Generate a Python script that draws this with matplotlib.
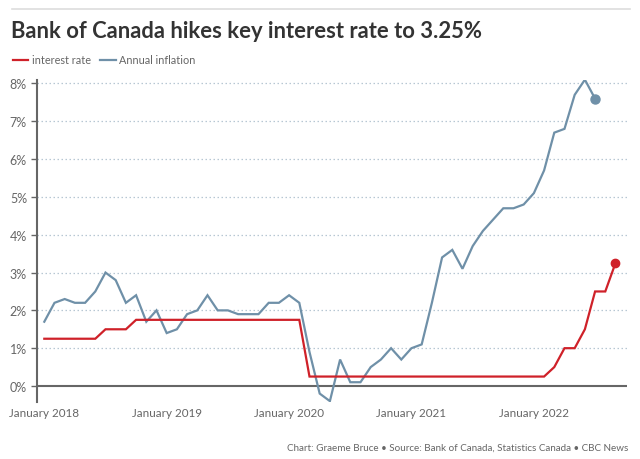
import matplotlib
matplotlib.use("Agg")
import matplotlib.pyplot as plt
from matplotlib.lines import Line2D
import numpy as np

# Data (monthly, starting January 2018)
interest_rate = [
    1.25, 1.25, 1.25, 1.25, 1.25, 1.25, 1.5, 1.5, 1.5, 1.75, 1.75, 1.75,   # 2018
    1.75, 1.75, 1.75, 1.75, 1.75, 1.75, 1.75, 1.75, 1.75, 1.75, 1.75, 1.75,  # 2019
    1.75, 1.75, 0.25, 0.25, 0.25, 0.25, 0.25, 0.25, 0.25, 0.25, 0.25, 0.25,  # 2020
    0.25, 0.25, 0.25, 0.25, 0.25, 0.25, 0.25, 0.25, 0.25, 0.25, 0.25, 0.25,  # 2021
    0.25, 0.25, 0.5, 1.0, 1.0, 1.5, 2.5, 2.5, 3.25,                          # 2022
]
annual_inflation = [
    1.7, 2.2, 2.3, 2.2, 2.2, 2.5, 3.0, 2.8, 2.2, 2.4, 1.7, 2.0,   # 2018
    1.4, 1.5, 1.9, 2.0, 2.4, 2.0, 2.0, 1.9, 1.9, 1.9, 2.2, 2.2,   # 2019
    2.4, 2.2, 0.9, -0.2, -0.4, 0.7, 0.1, 0.1, 0.5, 0.7, 1.0, 0.7, # 2020
    1.0, 1.1, 2.2, 3.4, 3.6, 3.1, 3.7, 4.1, 4.4, 4.7, 4.7, 4.8,   # 2021
    5.1, 5.7, 6.7, 6.8, 7.7, 8.1, 7.6,                            # 2022
]
x_tick_labels = ["January 2018", "January 2019", "January 2020", "January 2021", "January 2022"]
y_ticks = [0, 1, 2, 3, 4, 5, 6, 7, 8]

RED = "#cf2129"
BLUE = "#6f90a8"
TEXT = "#666666"
FONT = ["Lato", "DejaVu Sans"]

plt.rcParams["font.family"] = FONT

fig = plt.figure(figsize=(6.4, 4.6), dpi=100)
W, H = 640, 460
ax = fig.add_axes([36.7 / W, 1 - 402.7 / H, (626.7 - 36.7) / W, (402.7 - 80.7) / H])

x_rate = np.arange(len(interest_rate))
x_infl = np.arange(len(annual_inflation))

# grid
for v in y_ticks[1:]:
    ax.axhline(v, color="#b7c7d3", lw=0.9, ls=(0, (1.2, 2)), zorder=0)
ax.axhline(0, color="#666666", lw=1.5, zorder=1)

ax.plot(x_infl, annual_inflation, color=BLUE, lw=1.6, zorder=3, solid_joinstyle="miter")
ax.plot(x_rate, interest_rate, color=RED, lw=1.6, zorder=4, solid_joinstyle="miter")
ax.plot(x_infl[-1], annual_inflation[-1], "o", color=BLUE, ms=6.5, zorder=5)
ax.plot(x_rate[-1], interest_rate[-1], "o", color=RED, ms=6, zorder=5)

ax.set_xlim(-0.745, 57.1)
ax.set_ylim(-0.415, 8.1)

ax.set_yticks(y_ticks)
ax.set_yticklabels([f"{v}%" for v in y_ticks])
ax.set_xticks([0, 12, 24, 36, 48])
ax.set_xticklabels(x_tick_labels)

for s in ["top", "right", "bottom"]:
    ax.spines[s].set_visible(False)
ax.spines["left"].set_color("#666666")
ax.spines["left"].set_linewidth(1.5)

ax.tick_params(axis="y", length=4, width=1, color="#666666", labelcolor=TEXT,
               labelsize=9, pad=3)
ax.tick_params(axis="x", length=0, labelcolor=TEXT, labelsize=8.4, pad=4)

# top rule
fig.add_artist(Line2D([12 / W, 630 / W], [1 - 10 / H, 1 - 10 / H], color="#dddddd", lw=1.2))

# title
fig.text(11 / W, 1 - 32 / H, "Bank of Canada hikes key interest rate to 3.25%",
         fontsize=15.8, fontweight="bold", color="#333333", va="center", ha="left")

# legend
handles = [Line2D([], [], color=RED, lw=1.6), Line2D([], [], color=BLUE, lw=1.6)]
leg = fig.legend(handles, ["interest rate", "Annual inflation"], loc="center left",
                 bbox_to_anchor=(3 / W, 1 - 61 / H), ncol=2, frameon=False,
                 fontsize=7.8, handlelength=1.4, handletextpad=0.35, columnspacing=0.9,
                 labelcolor=TEXT)

# footer
fig.text(628 / W, 1 - 448 / H,
         "Chart: Graeme Bruce \u2022 Source: Bank of Canada, Statistics Canada \u2022 CBC News",
         fontsize=7.1, color=TEXT, ha="right", va="center")

fig.savefig("out.png", dpi=100)
